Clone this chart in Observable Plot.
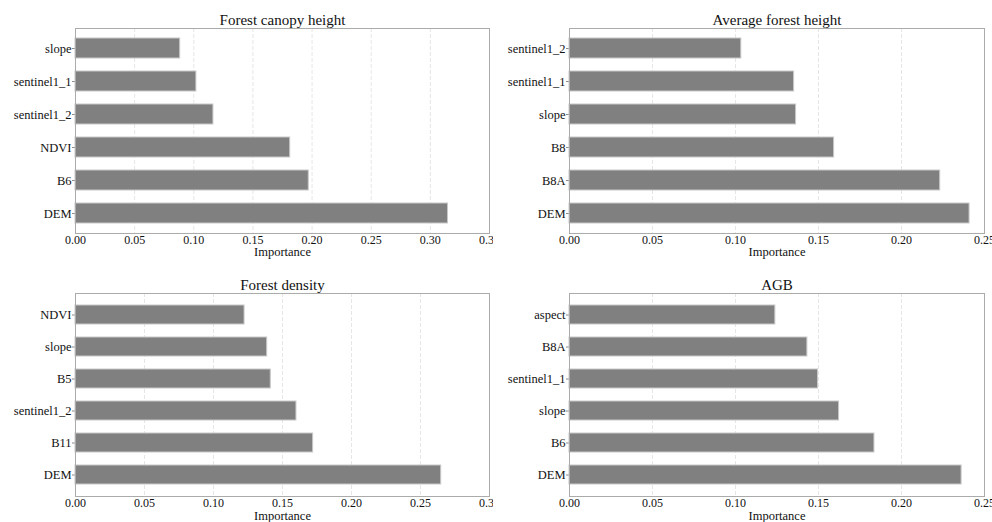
<!DOCTYPE html>
<html>
<head>
<meta charset="utf-8">
<script src="https://cdn.jsdelivr.net/npm/d3@7"></script>
<script src="https://cdn.jsdelivr.net/npm/@observablehq/plot@0.6"></script>
<style>
  body { margin: 0; background: #fff; }
  #fig { position: relative; width: 992px; height: 522px; overflow: hidden; background: #fff; }
  .panel { position: absolute; background: #fff; overflow: hidden; }
  .panel svg { display: block; }
  .panel svg text { font-family: "Liberation Serif", "Times New Roman", serif !important; }
  .panel [aria-label^="x-axis"] text { font-size: 12px !important; fill: #111; }
  .panel [aria-label^="y-axis"] text { font-size: 12.5px !important; fill: #111; }
  .panel [aria-label^="y-axis"] line, .panel [aria-label="y-axis tick"] path { stroke: #8a8a8a; }
</style>
</head>
<body>
<div id="fig"></div>
<script>
// Feature importance per target variable (top row of each chart first)
const canopyNames = ["slope", "sentinel1_1", "sentinel1_2", "NDVI", "B6", "DEM"];
const canopyValues = [0.0885, 0.1022, 0.1166, 0.1815, 0.1972, 0.3149];

const avgHeightNames = ["sentinel1_2", "sentinel1_1", "slope", "B8", "B8A", "DEM"];
const avgHeightValues = [0.1035, 0.1353, 0.1365, 0.1594, 0.2233, 0.2410];

const densityNames = ["NDVI", "slope", "B5", "sentinel1_2", "B11", "DEM"];
const densityValues = [0.1225, 0.1389, 0.1415, 0.1601, 0.1722, 0.2650];

const agbNames = ["aspect", "B8A", "sentinel1_1", "slope", "B6", "DEM"];
const agbValues = [0.1240, 0.1433, 0.1497, 0.1624, 0.1837, 0.2362];

// x-axis ticks for each panel
const canopyTicks = [0, 0.05, 0.10, 0.15, 0.20, 0.25, 0.30, 0.35];
const densityTicks = [0, 0.05, 0.10, 0.15, 0.20, 0.25, 0.30];
const rightTicks = [0, 0.05, 0.10, 0.15, 0.20, 0.25];

const xLabel = "Importance";
const fig = document.getElementById("fig");

function panel({title, names, values, ticks, left, top, width, height, margin, labelDy}) {
  const rows = names.map((name, i) => ({name, value: values[i]}));
  const chart = Plot.plot({
    width, height,
    marginLeft: margin[3], marginRight: margin[1], marginTop: margin[0], marginBottom: margin[2],
    style: {fontFamily: '"Liberation Serif", "Times New Roman", serif', fontSize: "12px", color: "#111", background: "white"},
    x: {domain: [0, ticks[ticks.length - 1]], ticks, tickFormat: d3.format(".2f"), tickSize: 0, tickPadding: 2, label: null},
    y: {domain: names, paddingInner: 0.4, paddingOuter: 0.28, tickSize: 3, tickPadding: 1, label: null},
    marks: [
      Plot.ruleX(ticks, {stroke: "#e6e6e6", strokeDasharray: "4,2"}),
      Plot.barX(rows, {x: "value", y: "name", fill: "#808080", stroke: "#c8c8c8", strokeWidth: 1}),
      Plot.frame({stroke: "#ababab"}),
      Plot.text([title], {text: d => d, frameAnchor: "top", dy: -4, lineAnchor: "bottom", fontSize: 15}),
      Plot.text([xLabel], {text: d => d, frameAnchor: "bottom", dy: labelDy, lineAnchor: "bottom", fontSize: 12.5})
    ]
  });
  const div = document.createElement("div");
  div.className = "panel";
  Object.assign(div.style, {left: left + "px", top: top + "px", width: width + "px", height: height + "px"});
  div.appendChild(chart);
  fig.appendChild(div);
}

// Left column first so the right column sits on top of any overflow
panel({title: "Forest canopy height", names: canopyNames, values: canopyValues, ticks: canopyTicks,
       left: 0, top: 0, width: 493, height: 262, margin: [28, 4, 29, 75], labelDy: 22});
panel({title: "Forest density", names: densityNames, values: densityValues, ticks: densityTicks,
       left: 0, top: 262, width: 493, height: 260, margin: [31, 4, 26, 75], labelDy: 23});
panel({title: "Average forest height", names: avgHeightNames, values: avgHeightValues, ticks: rightTicks,
       left: 493, top: 0, width: 499, height: 262, margin: [28, 8, 29, 76], labelDy: 22});
panel({title: "AGB", names: agbNames, values: agbValues, ticks: rightTicks,
       left: 493, top: 262, width: 499, height: 260, margin: [31, 8, 26, 76], labelDy: 23});
</script>
</body>
</html>
